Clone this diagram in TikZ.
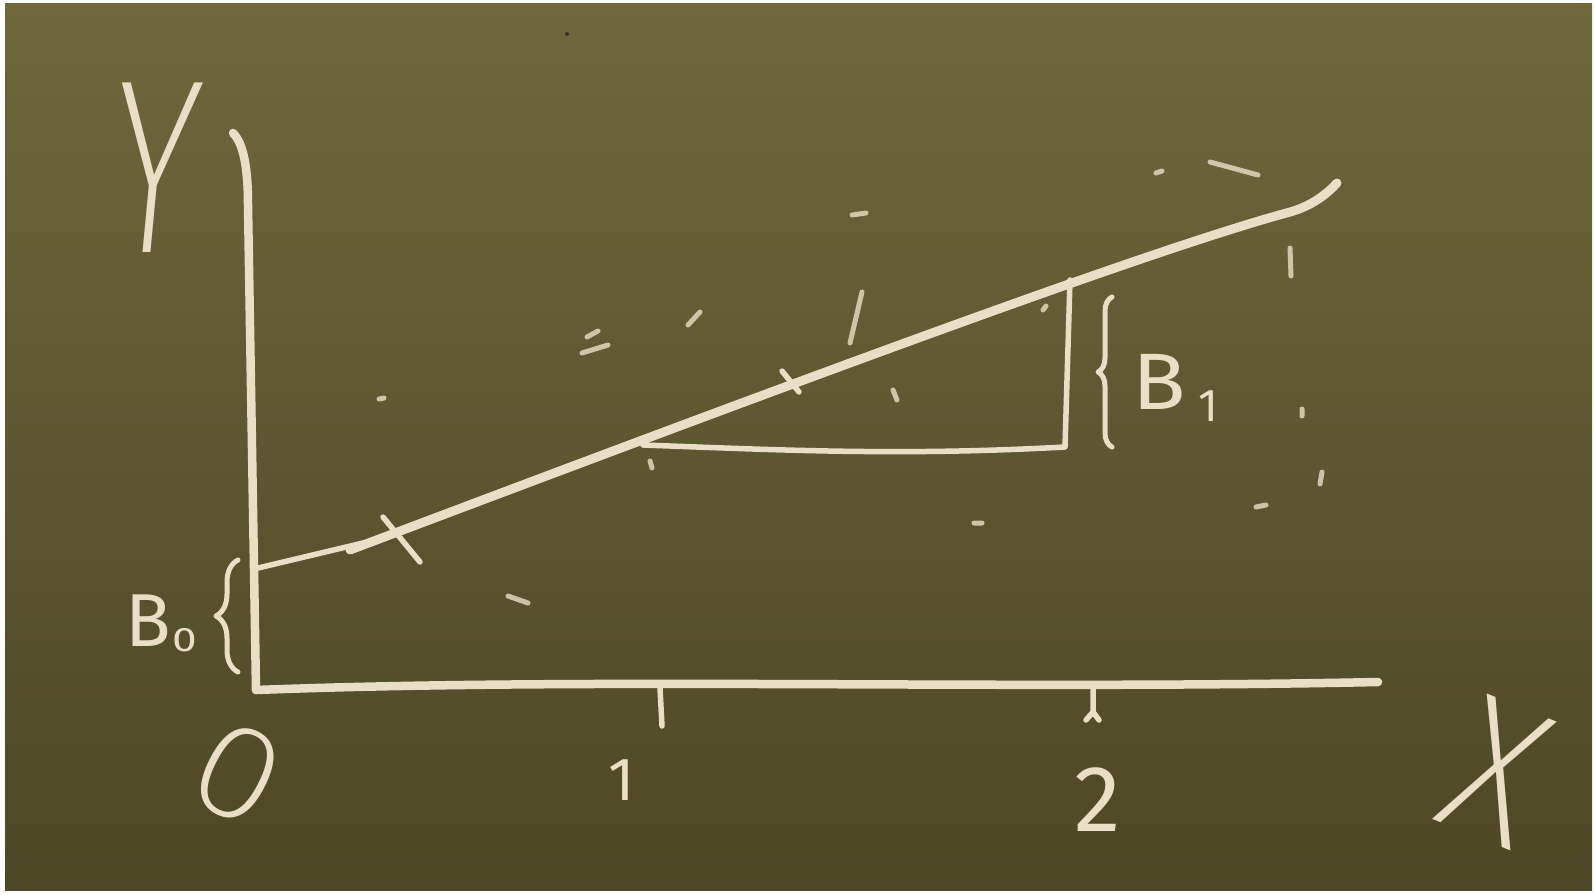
\documentclass[tikz,border=0pt]{standalone}
\usepackage{fontspec}
\newfontfamily\chalkthin{Fira Sans ExtraLight}
\newfontfamily\chalkfont{Fira Sans}
\usetikzlibrary{decorations.pathreplacing}

\definecolor{boardtop}{RGB}{110,104,60}
\definecolor{boardbot}{RGB}{76,71,38}
\definecolor{chalk}{RGB}{234,223,198}
\newcommand{\chalksize}[2]{#1\fontsize{#2}{#2}\selectfont}

\begin{document}
\begin{tikzpicture}[x=1pt, y=-1pt,
  chalk/.style={draw=chalk, line width=8.5pt, line cap=round, line join=round},
  thinchalk/.style={chalk, line width=5.5pt},
  speck/.style={chalk, line width=5pt, draw opacity=0.8},
  lbl/.style={text=chalk, inner sep=0pt}]
  \useasboundingbox (0,0) rectangle (1595,894);
  \fill[white] (0,0) rectangle (1595,894);
  \shade[top color=boardtop, bottom color=boardbot] (5,3) rectangle (1592,890);

  % axes
  \coordinate (O) at (256,690);
  \coordinate (ytop) at (233,133);
  \coordinate (xend) at (1378,682);
  \draw[chalk] (ytop) .. controls (244,144) and (248,170) .. (248,205) -- (O);
  \draw[chalk] (O) .. controls (600,677) and (1000,690) .. (xend);
  % ticks at 1 and 2
  \coordinate (t1) at (660,688);
  \coordinate (t2) at (1093,686);
  \draw[thinchalk] (t1) -- ++(2,38);
  \draw[thinchalk] (t2) -- ++(0,26) -- ++(-7,8) ++(7,-8) -- ++(6,8);

  % fitted line, B0 + B1 x
  \coordinate (b0) at (258,568);
  \coordinate (lstart) at (350,550);
  \coordinate (lbend) at (1290,212);
  \coordinate (lend) at (1337,183);
  \draw[thinchalk] (b0) -- (363,543);
  \draw[chalk, line width=9pt] (lstart) .. controls (800,380) and (1150,250) .. (lbend)
    .. controls (1312,206) and (1328,193) .. (lend);
  \draw[thinchalk] (383,517) -- (420,562);
  \draw[thinchalk] (782,371) -- (799,392);

  % slope triangle
  \coordinate (ta) at (643,445);
  \coordinate (tb) at (1065,447);
  \coordinate (tc) at (1070,280);
  \draw[thinchalk] (ta) .. controls (780,450) and (900,456) .. (tb) -- (tc);

  % braces
  \draw[thinchalk, line width=5pt, decorate, decoration={brace, amplitude=22pt}]
    (238,672) -- (238,560);
  \draw[thinchalk, line width=5pt, decorate, decoration={brace, amplitude=14pt}]
    (1112,447) -- (1112,297);

  % labels
  \node[lbl, font=\chalksize{\chalkthin}{248}, xscale=0.68, xslant=0.14] (ylab) at (155,168) {Y};
  \node[lbl, font=\chalksize{\chalkthin}{200}, rotate=-22, xscale=0.88] (xlab) at (1497,772) {X};
  \node[lbl, font=\chalksize{\chalkthin}{135}, rotate=-27, xscale=1.12] (zero) at (238,773) {0};
  \node[lbl, font=\chalksize{\chalkfont}{61}] (one) at (622,780) {1};
  \node[lbl, font=\chalksize{\chalkfont}{94}] (two) at (1098,800) {2};
  \node[lbl, font=\chalksize{\chalkfont}{75}] (b0lab) at (148,621) {B};
  \node[lbl, font=\chalksize{\chalkfont}{34}, xscale=1.3, anchor=base west, xshift=1pt, yshift=-5pt]
    (b0sub) at (b0lab.base east) {0};
  \node[lbl, font=\chalksize{\chalkfont}{80}, xscale=1.1] (b1lab) at (1159,382) {B};
  \node[lbl, font=\chalksize{\chalkfont}{46}, anchor=base west, xshift=12pt, yshift=-12pt]
    (b1sub) at (b1lab.base east) {1};

  % chalk dust
  \draw[speck] (852,215) -- (866,213) (688,325) -- (700,312) (582,353) -- (608,345)
    (587,337) -- (598,331) (862,292) -- (850,343) (893,390) -- (897,400)
    (1210,162) -- (1258,175) (1156,173) -- (1162,171) (1290,248) -- (1291,276)
    (379,399) -- (384,398) (1043,310) -- (1046,306) (1302,409) -- (1302,416)
    (1322,472) -- (1320,484) (1256,507) -- (1266,505) (974,523) -- (982,523)
    (508,596) -- (528,603) (650,461) -- (652,468);
  \fill[black!80] (567,34) circle (2);
\end{tikzpicture}
\end{document}
